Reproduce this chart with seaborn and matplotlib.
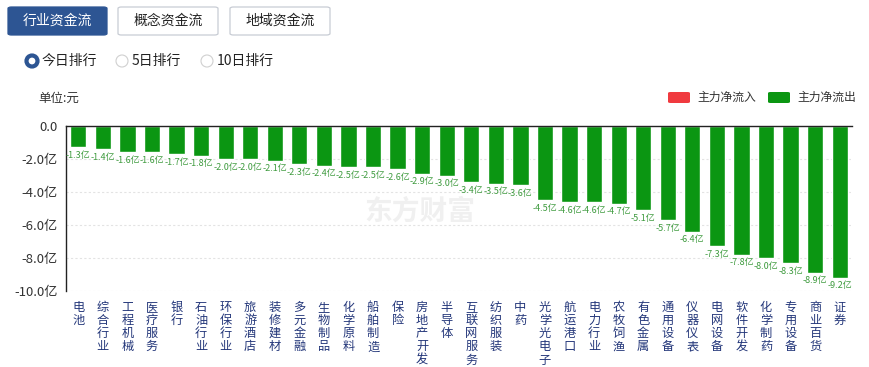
import numpy as np
import pandas as pd
import seaborn as sns
import matplotlib.pyplot as plt
from matplotlib.patches import FancyBboxPatch, Ellipse

# industry names and main net flow (unit: 亿元)
industries = ["电池", "综合行业", "工程机械", "医疗服务", "银行", "石油行业", "环保行业",
              "旅游酒店", "装修建材", "多元金融", "生物制品", "化学原料", "船舶制造", "保险",
              "房地产开发", "半导体", "互联网服务", "纺织服装", "中药", "光学光电子", "航运港口",
              "电力行业", "农牧饲渔", "有色金属", "通用设备", "仪器仪表", "电网设备", "软件开发",
              "化学制药", "专用设备", "商业百货", "证券"]
net_flow = [-1.3, -1.4, -1.6, -1.6, -1.7, -1.8, -2.0, -2.0, -2.1, -2.3, -2.4, -2.5, -2.5, -2.6,
            -2.9, -3.0, -3.4, -3.5, -3.6, -4.5, -4.6, -4.6, -4.7, -5.1, -5.7, -6.4, -7.3, -7.8,
            -8.0, -8.3, -8.9, -9.2]
y_ticks = [0, -2, -4, -6, -8, -10]
y_tick_labels = ["0.0", "-2.0亿", "-4.0亿", "-6.0亿", "-8.0亿", "-10.0亿"]
tabs = ["行业资金流", "概念资金流", "地域资金流"]
ranks = ["今日排行", "5日排行", "10日排行"]
legend_names = ["主力净流入", "主力净流出"]

GREEN = "#0b9612"
RED = "#f03a3f"
BLUE = "#2d5593"

sns.set_theme(style="white")
plt.rcParams['font.family'] = ['Noto Sans CJK SC', 'DejaVu Sans']

W, H = 869, 367
fig = plt.figure(figsize=(W / 100, H / 100), dpi=100)

def fx(px):
    return px / W

def fy(py):
    return 1 - py / H

df = pd.DataFrame({"industry": industries, "flow": net_flow})

ax = fig.add_axes([fx(66), fy(291), fx(852) - fx(66), fy(126) - fy(291)])
sns.barplot(data=df, x="industry", y="flow", color=GREEN, saturation=1, width=0.66, ax=ax)
ax.set_ylim(-10, 0)
ax.set_xlim(-0.5, len(industries) - 0.5)
ax.set_yticks(y_ticks)
ax.set_yticklabels(y_tick_labels, fontsize=9.5, color="#333333")
ax.set_xlabel("")
ax.set_ylabel("")
ax.tick_params(axis="y", length=0, pad=6)
ax.tick_params(axis="x", length=0, pad=7)
ax.set_xticks(range(len(industries)))
ax.set_xticklabels(["\n".join(n) for n in industries], rotation=0, fontsize=8.8,
                   color="#24377a", linespacing=1.02, va="top")
for yv in y_ticks[1:]:
    ax.axhline(yv, color="#e3e3e3", lw=0.8, ls=(0, (2, 2)), zorder=0)
for s in ["right", "bottom"]:
    ax.spines[s].set_visible(False)
ax.spines["top"].set_color("#222222")
ax.spines["top"].set_linewidth(1.0)
ax.spines["left"].set_color("#222222")
ax.spines["left"].set_linewidth(1.0)

# value labels under each bar
for i, v in enumerate(net_flow):
    ax.text(i, v - 0.22, f"{v:.1f}亿", ha="center", va="top", fontsize=6.5,
            color="#3f9b3f")

# faint watermark
fig.text(fx(420), fy(212), "东方财富", fontsize=20, color="#f0f0f0", ha="center",
         va="center", fontweight="bold", zorder=0)

# tab buttons
tab_x = [(8, 107), (118, 218), (230, 330)]
for i, (name, (x0, x1)) in enumerate(zip(tabs, tab_x)):
    box = FancyBboxPatch((fx(x0), fy(35)), fx(x1 - x0), fy(7) - fy(35),
                         boxstyle="round,pad=0,rounding_size=0.004",
                         transform=fig.transFigure,
                         facecolor=BLUE if i == 0 else "white",
                         edgecolor=BLUE if i == 0 else "#c8ccd4", lw=0.9)
    fig.patches.append(box)
    fig.text(fx((x0 + x1) / 2), fy(21), name, ha="center", va="center", fontsize=10,
             color="white" if i == 0 else "#222222")

# radio buttons
radio_x = [32, 122, 207]
for i, (name, cx) in enumerate(zip(ranks, radio_x)):
    if i == 0:
        fig.patches.append(Ellipse((fx(cx), fy(61)), 11 / W, 11 / H, transform=fig.transFigure,
                                   facecolor="white", edgecolor=BLUE, lw=3))
    else:
        fig.patches.append(Ellipse((fx(cx), fy(61)), 12 / W, 12 / H, transform=fig.transFigure,
                                   facecolor="white", edgecolor="#d0d0d0", lw=0.8))
    fig.text(fx(cx + 10), fy(61), name, ha="left", va="center", fontsize=10, color="#222222")

fig.text(fx(38), fy(98), "单位:元", ha="left", va="center", fontsize=9, color="#333333")

# legend
leg_x = [668, 768]
for name, lx, col in zip(legend_names, leg_x, [RED, GREEN]):
    fig.patches.append(FancyBboxPatch((fx(lx), fy(103)), fx(22), fy(92) - fy(103),
                                      boxstyle="round,pad=0,rounding_size=0.003",
                                      transform=fig.transFigure, facecolor=col,
                                      edgecolor="none"))
    fig.text(fx(lx + 29), fy(97.5), name, ha="left", va="center", fontsize=8.5,
             color="#333333")

fig.savefig("out.png", dpi=100, facecolor="white")
